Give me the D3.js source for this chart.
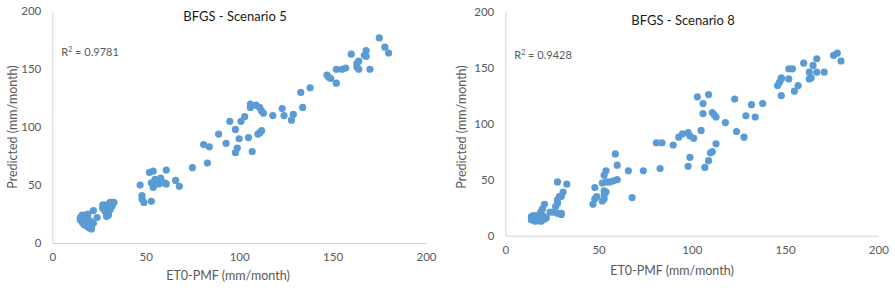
<!DOCTYPE html>
<html>
<head>
<meta charset="utf-8">
<script src="https://cdn.jsdelivr.net/npm/d3@7"></script>
<style>
  body { margin: 0; background: #fff; }
  #charts { width: 895px; height: 290px; }
  text { font-family: Lato, "Liberation Sans", sans-serif; }
</style>
</head>
<body>
<div id="charts"></div>
<script>
// ET0-PMF (x) and predicted (y) values, mm/month
var s5Eto = [15,15,16,16,17,17,17,18,18,18,18,19,19,19,20,20,20,21,21,21,22,16,19,22,24,
  27,28,28,29,29,30,30,31,31,29,32,33,27,30,
  47,48,48,49,53,52,54,53,54,55,56,57,58,59,60,54,61,61,66,68,75,
  83,81,84,89,93,95,98,100,99,98,101,103,105,107,106,106,109,111,112,113,110,111,112,118,123,124,129,128,134,133,138,
  147,148,149,152,152,155,157,160,164,163,163,164,168,167,168,170,175,178,180];
var s5Pred = [20,22,18,21,16,19,23,15,17,20,24,14,17,21,13,16,19,12,15,18,17,24,25,28,22,
  30,32,28,25,33,31,27,35,29,23,32,35,33,24,
  50,41,38,35,36,61,62,52,50,55,53,51,56,52,52,48,51,63,54,49,65,
  69,85,83,94,86,105,98,90,82,78,105,109,91,79,120,117,119,117,114,112,94,95,97,110,116,110,111,106,117,130,134,
  145,143,142,138,150,150,151,163,157,155,152,150,166,162,161,150,177,169,164];

var s8Eto = [14,14,15,15,16,16,17,17,18,18,19,19,20,20,21,22,19,20,21,24,26,28,30,30,27,28,28,30,31,29,28,33,
  47,48,48,49,52,53,53,54,53,52,54,56,58,60,53,54,59,60,66,68,74,
  83,81,84,90,93,95,98,99,101,105,99,98,107,109,110,111,113,103,109,106,106,111,112,113,118,123,124,128,129,132,134,138,
  148,146,147,148,148,152,154,152,155,157,160,165,167,163,167,171,163,164,176,178,180];
var s8Pred = [14,17,15,18,13,16,14,18,15,17,13,16,14,18,15,16,21,24,28,21,21,20,20,19,26,29,32,35,39,35,48,46,
  28,33,43,35,31,33,36,39,40,47,48,48,49,50,54,58,73,63,58,34,58,
  60,83,83,81,88,91,92,89,87,94,70,62,61,67,74,75,82,124,126,118,109,110,108,106,101,122,93,88,107,117,106,118,
  125,134,137,140,141,149,149,140,129,134,154,152,158,146,146,146,140,141,161,163,156];

var ticks = [0, 50, 100, 150, 200];
var titles = ["BFGS - Scenario 5", "BFGS - Scenario 8"];
var r2 = ["0.9781", "0.9428"];

var svg = d3.select("#charts")
  .append("svg")
  .attr("width", 895)
  .attr("height", 290);

var grey = "#595959";

let drawChart = (c) => {
  var x = d3.scaleLinear().domain([0, 200]).range([c.left, c.right]);
  var y = d3.scaleLinear().domain([0, 200]).range([c.bottom, c.top]);
  var g = svg.append("g");

  var xAxis = g.append("g")
    .attr("transform", "translate(0," + c.bottom + ")")
    .call(d3.axisBottom(x).tickValues(ticks).tickSize(0).tickPadding(10));
  var yAxis = g.append("g")
    .attr("transform", "translate(" + c.left + ",0)")
    .call(d3.axisLeft(y).tickValues(ticks).tickSize(0).tickPadding(11));
  [xAxis, yAxis].forEach(a => {
    a.select(".domain").attr("stroke", "#d4d4d4");
    a.selectAll("text").attr("fill", grey).style("font-size", "11.5px").style("font-family", "Lato, 'Liberation Sans', sans-serif");
  });

  g.selectAll("circle")
    .data(c.xs)
    .enter()
    .append("circle")
    .attr("cx", d => x(d))
    .attr("cy", (d, i) => y(c.ys[i]))
    .attr("r", 3.6)
    .attr("fill", "#5b9bd5");

  g.append("text")
    .attr("x", c.titleX).attr("y", c.titleY)
    .attr("text-anchor", "middle")
    .attr("fill", "#1a1a1a")
    .style("font-size", "13px")
    .text(c.title);

  var r = g.append("text")
    .attr("x", c.left + 9).attr("y", c.r2Y)
    .attr("fill", grey)
    .style("font-size", "11px");
  r.append("tspan").text("R");
  r.append("tspan").attr("dy", -4).style("font-size", "7px").text("2");
  r.append("tspan").attr("dy", 4).text(" = " + c.r2);

  g.append("text")
    .attr("x", c.xTitleX).attr("y", c.xTitleY)
    .attr("text-anchor", "middle")
    .attr("fill", grey)
    .style("font-size", "12.5px")
    .text("ET0-PMF (mm/month)");

  g.append("text")
    .attr("transform", "translate(" + c.yTitleX + "," + c.yTitleY + ") rotate(-90)")
    .attr("text-anchor", "middle")
    .attr("fill", grey)
    .style("font-size", "12.5px")
    .text("Predicted (mm/month)");
};

drawChart({xs: s5Eto, ys: s5Pred, title: titles[0], r2: r2[0],
  left: 52.3, right: 426, top: 11.3, bottom: 243,
  titleX: 235, titleY: 21, r2Y: 56, xTitleX: 228, xTitleY: 280, yTitleX: 17, yTitleY: 127});
drawChart({xs: s8Eto, ys: s8Pred, title: titles[1], r2: r2[1],
  left: 505.3, right: 878.3, top: 11.7, bottom: 235.7,
  titleX: 683, titleY: 25, r2Y: 59, xTitleX: 672, xTitleY: 275, yTitleX: 466, yTitleY: 127});
</script>
</body>
</html>
